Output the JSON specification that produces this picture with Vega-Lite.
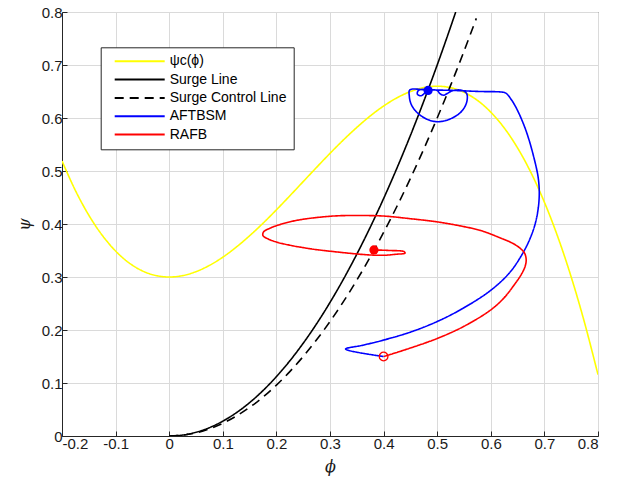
{
  "$schema": "https://vega.github.io/schema/vega-lite/v6.json",
  "width": 536,
  "height": 424,
  "autosize": {"type": "none"},
  "padding": {"left": 62, "top": 12, "right": 19, "bottom": 50},
  "background": "#ffffff",
  "config": {
    "view": {"stroke": "#262626", "strokeWidth": 1},
    "axis": {
      "grid": true,
      "gridColor": "#dadada",
      "gridWidth": 1,
      "domainColor": "#262626",
      "tickColor": "#262626",
      "tickSize": -5,
      "labelFont": "Liberation Sans",
      "labelFontSize": 15,
      "labelColor": "#1a1a1a",
      "titleFont": "DejaVu Serif",
      "titleFontSize": 16,
      "titleFontStyle": "italic",
      "titleFontWeight": "normal",
      "titleColor": "#1a1a1a"
    }
  },
  "datasets": {
    "lines": [
      {"series": "ψc(ϕ)", "idx": 1, "phi": -0.2, "psi": 0.5189},
      {"series": "ψc(ϕ)", "idx": 2, "phi": -0.175, "psi": 0.4632},
      {"series": "ψc(ϕ)", "idx": 3, "phi": -0.15, "psi": 0.4166},
      {"series": "ψc(ϕ)", "idx": 4, "phi": -0.125, "psi": 0.3788},
      {"series": "ψc(ϕ)", "idx": 5, "phi": -0.1, "psi": 0.349},
      {"series": "ψc(ϕ)", "idx": 6, "phi": -0.075, "psi": 0.3267},
      {"series": "ψc(ϕ)", "idx": 7, "phi": -0.05, "psi": 0.3115},
      {"series": "ψc(ϕ)", "idx": 8, "phi": -0.025, "psi": 0.3028},
      {"series": "ψc(ϕ)", "idx": 9, "phi": 0, "psi": 0.3},
      {"series": "ψc(ϕ)", "idx": 10, "phi": 0.025, "psi": 0.3026},
      {"series": "ψc(ϕ)", "idx": 11, "phi": 0.05, "psi": 0.3101},
      {"series": "ψc(ϕ)", "idx": 12, "phi": 0.075, "psi": 0.3219},
      {"series": "ψc(ϕ)", "idx": 13, "phi": 0.1, "psi": 0.3374},
      {"series": "ψc(ϕ)", "idx": 14, "phi": 0.125, "psi": 0.3563},
      {"series": "ψc(ϕ)", "idx": 15, "phi": 0.15, "psi": 0.3778},
      {"series": "ψc(ϕ)", "idx": 16, "phi": 0.175, "psi": 0.4014},
      {"series": "ψc(ϕ)", "idx": 17, "phi": 0.2, "psi": 0.4267},
      {"series": "ψc(ϕ)", "idx": 18, "phi": 0.225, "psi": 0.4531},
      {"series": "ψc(ϕ)", "idx": 19, "phi": 0.25, "psi": 0.48},
      {"series": "ψc(ϕ)", "idx": 20, "phi": 0.275, "psi": 0.5069},
      {"series": "ψc(ϕ)", "idx": 21, "phi": 0.3, "psi": 0.5333},
      {"series": "ψc(ϕ)", "idx": 22, "phi": 0.325, "psi": 0.5586},
      {"series": "ψc(ϕ)", "idx": 23, "phi": 0.35, "psi": 0.5822},
      {"series": "ψc(ϕ)", "idx": 24, "phi": 0.375, "psi": 0.6038},
      {"series": "ψc(ϕ)", "idx": 25, "phi": 0.4, "psi": 0.6226},
      {"series": "ψc(ϕ)", "idx": 26, "phi": 0.425, "psi": 0.6381},
      {"series": "ψc(ϕ)", "idx": 27, "phi": 0.45, "psi": 0.6499},
      {"series": "ψc(ϕ)", "idx": 28, "phi": 0.475, "psi": 0.6574},
      {"series": "ψc(ϕ)", "idx": 29, "phi": 0.5, "psi": 0.66},
      {"series": "ψc(ϕ)", "idx": 30, "phi": 0.525, "psi": 0.6572},
      {"series": "ψc(ϕ)", "idx": 31, "phi": 0.55, "psi": 0.6485},
      {"series": "ψc(ϕ)", "idx": 32, "phi": 0.575, "psi": 0.6333},
      {"series": "ψc(ϕ)", "idx": 33, "phi": 0.6, "psi": 0.611},
      {"series": "ψc(ϕ)", "idx": 34, "phi": 0.625, "psi": 0.5813},
      {"series": "ψc(ϕ)", "idx": 35, "phi": 0.65, "psi": 0.5434},
      {"series": "ψc(ϕ)", "idx": 36, "phi": 0.675, "psi": 0.4968},
      {"series": "ψc(ϕ)", "idx": 37, "phi": 0.7, "psi": 0.4411},
      {"series": "ψc(ϕ)", "idx": 38, "phi": 0.725, "psi": 0.3757},
      {"series": "ψc(ϕ)", "idx": 39, "phi": 0.75, "psi": 0.3},
      {"series": "ψc(ϕ)", "idx": 40, "phi": 0.775, "psi": 0.2135},
      {"series": "ψc(ϕ)", "idx": 41, "phi": 0.8, "psi": 0.1157},

      {"series": "Surge Line", "idx": 1, "phi": 0, "psi": 0},
      {"series": "Surge Line", "idx": 2, "phi": 0.025, "psi": 0.00175},
      {"series": "Surge Line", "idx": 3, "phi": 0.05, "psi": 0.007},
      {"series": "Surge Line", "idx": 4, "phi": 0.075, "psi": 0.01575},
      {"series": "Surge Line", "idx": 5, "phi": 0.1, "psi": 0.028},
      {"series": "Surge Line", "idx": 6, "phi": 0.125, "psi": 0.04375},
      {"series": "Surge Line", "idx": 7, "phi": 0.15, "psi": 0.063},
      {"series": "Surge Line", "idx": 8, "phi": 0.175, "psi": 0.08575},
      {"series": "Surge Line", "idx": 9, "phi": 0.2, "psi": 0.112},
      {"series": "Surge Line", "idx": 10, "phi": 0.225, "psi": 0.14175},
      {"series": "Surge Line", "idx": 11, "phi": 0.25, "psi": 0.175},
      {"series": "Surge Line", "idx": 12, "phi": 0.275, "psi": 0.21175},
      {"series": "Surge Line", "idx": 13, "phi": 0.3, "psi": 0.252},
      {"series": "Surge Line", "idx": 14, "phi": 0.325, "psi": 0.29575},
      {"series": "Surge Line", "idx": 15, "phi": 0.35, "psi": 0.343},
      {"series": "Surge Line", "idx": 16, "phi": 0.375, "psi": 0.39375},
      {"series": "Surge Line", "idx": 17, "phi": 0.4, "psi": 0.448},
      {"series": "Surge Line", "idx": 18, "phi": 0.425, "psi": 0.50575},
      {"series": "Surge Line", "idx": 19, "phi": 0.45, "psi": 0.567},
      {"series": "Surge Line", "idx": 20, "phi": 0.475, "psi": 0.63175},
      {"series": "Surge Line", "idx": 21, "phi": 0.5, "psi": 0.7},
      {"series": "Surge Line", "idx": 22, "phi": 0.525, "psi": 0.77175},
      {"series": "Surge Line", "idx": 23, "phi": 0.5345, "psi": 0.7999},

      {"series": "Surge Control Line", "idx": 1, "phi": 0, "psi": 0},
      {"series": "Surge Control Line", "idx": 2, "phi": 0.025, "psi": 0.0015},
      {"series": "Surge Control Line", "idx": 3, "phi": 0.05, "psi": 0.006},
      {"series": "Surge Control Line", "idx": 4, "phi": 0.075, "psi": 0.0135},
      {"series": "Surge Control Line", "idx": 5, "phi": 0.1, "psi": 0.024},
      {"series": "Surge Control Line", "idx": 6, "phi": 0.125, "psi": 0.0375},
      {"series": "Surge Control Line", "idx": 7, "phi": 0.15, "psi": 0.054},
      {"series": "Surge Control Line", "idx": 8, "phi": 0.175, "psi": 0.0735},
      {"series": "Surge Control Line", "idx": 9, "phi": 0.2, "psi": 0.096},
      {"series": "Surge Control Line", "idx": 10, "phi": 0.225, "psi": 0.1215},
      {"series": "Surge Control Line", "idx": 11, "phi": 0.25, "psi": 0.15},
      {"series": "Surge Control Line", "idx": 12, "phi": 0.275, "psi": 0.1815},
      {"series": "Surge Control Line", "idx": 13, "phi": 0.3, "psi": 0.216},
      {"series": "Surge Control Line", "idx": 14, "phi": 0.325, "psi": 0.2535},
      {"series": "Surge Control Line", "idx": 15, "phi": 0.35, "psi": 0.294},
      {"series": "Surge Control Line", "idx": 16, "phi": 0.375, "psi": 0.3375},
      {"series": "Surge Control Line", "idx": 17, "phi": 0.4, "psi": 0.384},
      {"series": "Surge Control Line", "idx": 18, "phi": 0.425, "psi": 0.4335},
      {"series": "Surge Control Line", "idx": 19, "phi": 0.45, "psi": 0.486},
      {"series": "Surge Control Line", "idx": 20, "phi": 0.475, "psi": 0.5415},
      {"series": "Surge Control Line", "idx": 21, "phi": 0.5, "psi": 0.6},
      {"series": "Surge Control Line", "idx": 22, "phi": 0.525, "psi": 0.6615},
      {"series": "Surge Control Line", "idx": 23, "phi": 0.55, "psi": 0.726},
      {"series": "Surge Control Line", "idx": 24, "phi": 0.573, "psi": 0.788},

      {"series": "AFTBSM", "idx": 1, "phi": 0.4, "psi": 0.15},
      {"series": "AFTBSM", "idx": 2, "phi": 0.329, "psi": 0.164},
      {"series": "AFTBSM", "idx": 3, "phi": 0.36, "psi": 0.171},
      {"series": "AFTBSM", "idx": 4, "phi": 0.4, "psi": 0.181},
      {"series": "AFTBSM", "idx": 5, "phi": 0.45, "psi": 0.196},
      {"series": "AFTBSM", "idx": 6, "phi": 0.5, "psi": 0.216},
      {"series": "AFTBSM", "idx": 7, "phi": 0.55, "psi": 0.242},
      {"series": "AFTBSM", "idx": 8, "phi": 0.6, "psi": 0.275},
      {"series": "AFTBSM", "idx": 9, "phi": 0.635, "psi": 0.308},
      {"series": "AFTBSM", "idx": 10, "phi": 0.658, "psi": 0.342},
      {"series": "AFTBSM", "idx": 11, "phi": 0.673, "psi": 0.372},
      {"series": "AFTBSM", "idx": 12, "phi": 0.684, "psi": 0.405},
      {"series": "AFTBSM", "idx": 13, "phi": 0.69, "psi": 0.445},
      {"series": "AFTBSM", "idx": 14, "phi": 0.689, "psi": 0.483},
      {"series": "AFTBSM", "idx": 15, "phi": 0.68, "psi": 0.527},
      {"series": "AFTBSM", "idx": 16, "phi": 0.665, "psi": 0.578},
      {"series": "AFTBSM", "idx": 17, "phi": 0.648, "psi": 0.618},
      {"series": "AFTBSM", "idx": 18, "phi": 0.636, "psi": 0.638},
      {"series": "AFTBSM", "idx": 19, "phi": 0.628, "psi": 0.647},
      {"series": "AFTBSM", "idx": 20, "phi": 0.62, "psi": 0.649},
      {"series": "AFTBSM", "idx": 21, "phi": 0.58, "psi": 0.65},
      {"series": "AFTBSM", "idx": 22, "phi": 0.53, "psi": 0.652},
      {"series": "AFTBSM", "idx": 23, "phi": 0.48, "psi": 0.653},
      {"series": "AFTBSM", "idx": 24, "phi": 0.449, "psi": 0.653},
      {"series": "AFTBSM", "idx": 25, "phi": 0.448, "psi": 0.641},
      {"series": "AFTBSM", "idx": 26, "phi": 0.451, "psi": 0.627},
      {"series": "AFTBSM", "idx": 27, "phi": 0.459, "psi": 0.614},
      {"series": "AFTBSM", "idx": 28, "phi": 0.47, "psi": 0.604},
      {"series": "AFTBSM", "idx": 29, "phi": 0.485, "psi": 0.596},
      {"series": "AFTBSM", "idx": 30, "phi": 0.5, "psi": 0.593},
      {"series": "AFTBSM", "idx": 31, "phi": 0.515, "psi": 0.595},
      {"series": "AFTBSM", "idx": 32, "phi": 0.53, "psi": 0.601},
      {"series": "AFTBSM", "idx": 33, "phi": 0.543, "psi": 0.61},
      {"series": "AFTBSM", "idx": 34, "phi": 0.552, "psi": 0.622},
      {"series": "AFTBSM", "idx": 35, "phi": 0.556, "psi": 0.635},
      {"series": "AFTBSM", "idx": 36, "phi": 0.555, "psi": 0.646},
      {"series": "AFTBSM", "idx": 37, "phi": 0.547, "psi": 0.652},
      {"series": "AFTBSM", "idx": 38, "phi": 0.53, "psi": 0.652},
      {"series": "AFTBSM", "idx": 39, "phi": 0.52, "psi": 0.647},
      {"series": "AFTBSM", "idx": 40, "phi": 0.512, "psi": 0.643},
      {"series": "AFTBSM", "idx": 41, "phi": 0.505, "psi": 0.646},
      {"series": "AFTBSM", "idx": 42, "phi": 0.5, "psi": 0.652},
      {"series": "AFTBSM", "idx": 43, "phi": 0.488, "psi": 0.653},
      {"series": "AFTBSM", "idx": 44, "phi": 0.478, "psi": 0.648},
      {"series": "AFTBSM", "idx": 45, "phi": 0.47, "psi": 0.642},
      {"series": "AFTBSM", "idx": 46, "phi": 0.463, "psi": 0.645},
      {"series": "AFTBSM", "idx": 47, "phi": 0.465, "psi": 0.652},
      {"series": "AFTBSM", "idx": 48, "phi": 0.475, "psi": 0.654},
      {"series": "AFTBSM", "idx": 49, "phi": 0.483, "psi": 0.652},

      {"series": "RAFB", "idx": 1, "phi": 0.4, "psi": 0.15},
      {"series": "RAFB", "idx": 2, "phi": 0.41, "psi": 0.153},
      {"series": "RAFB", "idx": 3, "phi": 0.45, "psi": 0.166},
      {"series": "RAFB", "idx": 4, "phi": 0.5, "psi": 0.184},
      {"series": "RAFB", "idx": 5, "phi": 0.55, "psi": 0.207},
      {"series": "RAFB", "idx": 6, "phi": 0.6, "psi": 0.238},
      {"series": "RAFB", "idx": 7, "phi": 0.625, "psi": 0.261},
      {"series": "RAFB", "idx": 8, "phi": 0.645, "psi": 0.287},
      {"series": "RAFB", "idx": 9, "phi": 0.657, "psi": 0.305},
      {"series": "RAFB", "idx": 10, "phi": 0.664, "psi": 0.32},
      {"series": "RAFB", "idx": 11, "phi": 0.666, "psi": 0.333},
      {"series": "RAFB", "idx": 12, "phi": 0.663, "psi": 0.345},
      {"series": "RAFB", "idx": 13, "phi": 0.655, "psi": 0.354},
      {"series": "RAFB", "idx": 14, "phi": 0.64, "psi": 0.364},
      {"series": "RAFB", "idx": 15, "phi": 0.617, "psi": 0.374},
      {"series": "RAFB", "idx": 16, "phi": 0.58, "psi": 0.388},
      {"series": "RAFB", "idx": 17, "phi": 0.54, "psi": 0.397},
      {"series": "RAFB", "idx": 18, "phi": 0.5, "psi": 0.404},
      {"series": "RAFB", "idx": 19, "phi": 0.45, "psi": 0.41},
      {"series": "RAFB", "idx": 20, "phi": 0.4, "psi": 0.415},
      {"series": "RAFB", "idx": 21, "phi": 0.35, "psi": 0.416},
      {"series": "RAFB", "idx": 22, "phi": 0.306, "psi": 0.415},
      {"series": "RAFB", "idx": 23, "phi": 0.244, "psi": 0.408},
      {"series": "RAFB", "idx": 24, "phi": 0.21, "psi": 0.4},
      {"series": "RAFB", "idx": 25, "phi": 0.188, "psi": 0.392},
      {"series": "RAFB", "idx": 26, "phi": 0.176, "psi": 0.385},
      {"series": "RAFB", "idx": 27, "phi": 0.175, "psi": 0.378},
      {"series": "RAFB", "idx": 28, "phi": 0.184, "psi": 0.372},
      {"series": "RAFB", "idx": 29, "phi": 0.2, "psi": 0.366},
      {"series": "RAFB", "idx": 30, "phi": 0.225, "psi": 0.36},
      {"series": "RAFB", "idx": 31, "phi": 0.265, "psi": 0.353},
      {"series": "RAFB", "idx": 32, "phi": 0.306, "psi": 0.348},
      {"series": "RAFB", "idx": 33, "phi": 0.368, "psi": 0.342},
      {"series": "RAFB", "idx": 34, "phi": 0.4, "psi": 0.341},
      {"series": "RAFB", "idx": 35, "phi": 0.424, "psi": 0.343},
      {"series": "RAFB", "idx": 36, "phi": 0.44, "psi": 0.345},
      {"series": "RAFB", "idx": 37, "phi": 0.438, "psi": 0.348},
      {"series": "RAFB", "idx": 38, "phi": 0.412, "psi": 0.35},
      {"series": "RAFB", "idx": 39, "phi": 0.382, "psi": 0.351}
    ],
    "markers": [
      {"series": "AFTBSM", "kind": "end", "phi": 0.483, "psi": 0.652},
      {"series": "RAFB", "kind": "end", "phi": 0.382, "psi": 0.351},
      {"series": "RAFB", "kind": "start", "phi": 0.4, "psi": 0.15}
    ]
  },
  "layer": [
    {
      "data": {"name": "lines"},
      "mark": {"type": "line", "strokeWidth": 1.6, "interpolate": "catmull-rom", "clip": true},
      "encoding": {
        "x": {
          "field": "phi",
          "type": "quantitative",
          "title": "ϕ",
          "scale": {"domain": [-0.2, 0.8], "nice": false, "zero": false},
          "axis": {
            "values": [-0.2, -0.1, 0, 0.1, 0.2, 0.3, 0.4, 0.5, 0.6, 0.7, 0.8],
            "labelExpr": "toString(round(datum.value*10)/10)",
            "labelPadding": 5,
            "titlePadding": 7
          }
        },
        "y": {
          "field": "psi",
          "type": "quantitative",
          "title": "ψ",
          "scale": {"domain": [0, 0.8], "nice": false},
          "axis": {
            "values": [0, 0.1, 0.2, 0.3, 0.4, 0.5, 0.6, 0.7, 0.8],
            "labelExpr": "toString(round(datum.value*10)/10)",
            "labelPadding": 5,
            "titlePadding": 9
          }
        },
        "order": {"field": "idx", "type": "quantitative"},
        "color": {
          "field": "series",
          "type": "nominal",
          "scale": {
            "domain": ["ψc(ϕ)", "Surge Line", "Surge Control Line", "AFTBSM", "RAFB"],
            "range": ["#ffff00", "#000000", "#000000", "#0000ff", "#ff0000"]
          },
          "legend": {
            "title": null,
            "orient": "none",
            "legendX": 38.7,
            "legendY": 35.3,
            "strokeColor": "#262626",
            "fillColor": "#ffffff",
            "padding": 7,
            "symbolType": "M0,0H10",
            "symbolSize": 100,
            "symbolStrokeWidth": 2,
            "labelOffset": 48,
            "labelFont": "Liberation Sans",
            "labelFontSize": 14,
            "labelColor": "#000000",
            "rowPadding": 4.3,
            "labelLimit": 300
          }
        },
        "strokeDash": {
          "field": "series",
          "type": "nominal",
          "scale": {
            "domain": ["ψc(ϕ)", "Surge Line", "Surge Control Line", "AFTBSM", "RAFB"],
            "range": [[1, 0], [1, 0], [9, 6], [1, 0], [1, 0]]
          },
          "legend": {
            "title": null,
            "orient": "none",
            "legendX": 38.7,
            "legendY": 35.3,
            "strokeColor": "#262626",
            "fillColor": "#ffffff",
            "padding": 7,
            "symbolType": "M0,0H10",
            "symbolSize": 100,
            "symbolStrokeWidth": 2,
            "labelOffset": 48,
            "labelFont": "Liberation Sans",
            "labelFontSize": 14,
            "labelColor": "#000000",
            "rowPadding": 4.3,
            "labelLimit": 300
          }
        }
      }
    },
    {
      "data": {"name": "markers"},
      "transform": [{"filter": "datum.kind == 'end' && datum.series == 'AFTBSM'"}],
      "mark": {"type": "point", "filled": true, "color": "#0000ff", "size": 85, "opacity": 1},
      "encoding": {
        "x": {"field": "phi", "type": "quantitative"},
        "y": {"field": "psi", "type": "quantitative"}
      }
    },
    {
      "data": {"name": "markers"},
      "transform": [{"filter": "datum.kind == 'end' && datum.series == 'RAFB'"}],
      "mark": {"type": "point", "filled": true, "color": "#ff0000", "size": 85, "opacity": 1},
      "encoding": {
        "x": {"field": "phi", "type": "quantitative"},
        "y": {"field": "psi", "type": "quantitative"}
      }
    },
    {
      "data": {"name": "markers"},
      "transform": [{"filter": "datum.kind == 'start'"}],
      "mark": {"type": "point", "filled": false, "color": "#ff0000", "size": 75, "strokeWidth": 1.3, "opacity": 1},
      "encoding": {
        "x": {"field": "phi", "type": "quantitative"},
        "y": {"field": "psi", "type": "quantitative"}
      }
    }
  ]
}
